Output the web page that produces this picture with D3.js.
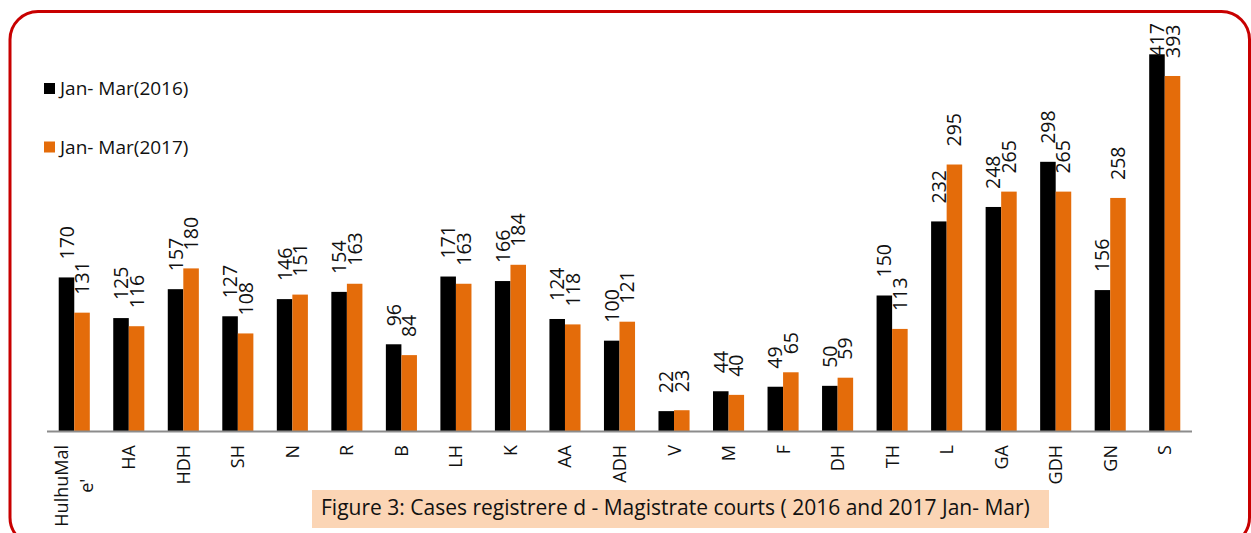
<!DOCTYPE html>
<html>
<head>
<meta charset="utf-8">
<script src="https://cdn.jsdelivr.net/npm/d3@7"></script>
<style>
  body { margin: 0; background: #fff; }
  svg { display: block; }
  text { font-family: "Open Sans", sans-serif; fill: #111; }
</style>
</head>
<body>
<svg id="chart"></svg>
<script>
var width = 1251,
    height = 533;

// data
var categories = ["HulhuMale'", "HA", "HDH", "SH", "N", "R", "B", "LH", "K", "AA", "ADH",
                  "V", "M", "F", "DH", "TH", "L", "GA", "GDH", "GN", "S"];
var cases2016 = [170, 125, 157, 127, 146, 154, 96, 171, 166, 124, 100, 22, 44, 49, 50, 150, 232, 248, 298, 156, 417];
var cases2017 = [131, 116, 180, 108, 151, 163, 84, 163, 184, 118, 121, 23, 40, 65, 59, 113, 295, 265, 265, 258, 393];
var seriesNames = ["Jan- Mar(2016)", "Jan- Mar(2017)"];
var seriesColors = ["#000000", "#E46C0A"];
var caption = "Figure 3: Cases registrere d - Magistrate courts ( 2016 and 2017 Jan- Mar)";

var svg = d3.select("#chart").attr("width", width).attr("height", height);

// red frame
svg.append("rect")
  .attr("x", 10).attr("y", 11.5)
  .attr("width", 1239.5).attr("height", 534)
  .attr("rx", 28).attr("ry", 28)
  .attr("fill", "none")
  .attr("stroke", "#C80000")
  .attr("stroke-width", 3);

var x = d3.scaleBand()
  .domain(categories)
  .range([47, 1192])
  .paddingInner(0.43)
  .paddingOuter(0.215);

var xs = d3.scaleBand()
  .domain([0, 1])
  .range([0, x.bandwidth()]);

var y = d3.scaleLinear()
  .domain([0, 450])
  .range([431, 24.5]);

var rows = categories.map(function(c, i) {
  return { cat: c, values: [cases2016[i], cases2017[i]] };
});

var groups = svg.append("g").attr("class", "bars")
  .selectAll("g")
  .data(rows)
  .enter()
  .append("g")
  .attr("transform", function(d) { return "translate(" + x(d.cat) + ",0)"; });

groups.selectAll("rect")
  .data(function(d) { return d.values.map(function(v, s) { return { v: v, s: s }; }); })
  .enter()
  .append("rect")
  .attr("x", function(d) { return xs(d.s); })
  .attr("y", function(d) { return y(d.v); })
  .attr("width", xs.bandwidth())
  .attr("height", function(d) { return y(0) - y(d.v); })
  .attr("fill", function(d) { return seriesColors[d.s]; });

// value labels, rotated, above each bar (kept inside plot top)
groups.selectAll("text.val")
  .data(function(d) { return d.values.map(function(v, s) { return { v: v, s: s }; }); })
  .enter()
  .append("text")
  .attr("class", "val")
  .style("font-size", "19.5px")
  .attr("dy", "0.36em")
  .text(function(d) { return d.v; })
  .each(function(d) {
    var len = this.getComputedTextLength();
    var cx = xs(d.s) + xs.bandwidth() / 2;
    var yy = Math.max(y(d.v) - 18, 23 + len);
    d3.select(this).attr("transform", "translate(" + cx + "," + yy + ") rotate(-90)");
  });

// baseline axis
svg.append("line")
  .attr("x1", 47).attr("x2", 1192)
  .attr("y1", y(0) + 0.5).attr("y2", y(0) + 0.5)
  .attr("stroke", "#8C8C8C")
  .attr("stroke-width", 2);

// category labels, rotated, wrapped like the original
var maxLabel = 86;
svg.append("g").attr("class", "cats")
  .selectAll("text")
  .data(categories)
  .enter()
  .append("text")
  .style("font-size", "18px")
  .each(function(d) {
    var t = d3.select(this);
    var lines = [], cur = "";
    t.text(d);
    if (this.getComputedTextLength() <= maxLabel) {
      lines = [d];
    } else {
      for (var i = 0; i < d.length; i++) {
        t.text(cur + d[i]);
        if (this.getComputedTextLength() > maxLabel && cur.length) {
          lines.push(cur);
          cur = d[i];
        } else {
          cur += d[i];
        }
      }
      lines.push(cur);
    }
    t.text(null);
    var longest = 0;
    lines.forEach(function(l) {
      var tmp = t.append("tspan").text(l);
      longest = Math.max(longest, tmp.node().getComputedTextLength());
      tmp.remove();
    });
    var lh = 25;
    var cx = x(d) + x.bandwidth() / 2;
    var cy = 445 + longest / 2;
    t.attr("text-anchor", "middle")
      .attr("transform", "translate(" + cx + "," + cy + ") rotate(-90)");
    lines.forEach(function(l, i) {
      t.append("tspan")
        .attr("x", 0)
        .attr("y", (i - (lines.length - 1) / 2) * lh)
        .attr("dy", "0.36em")
        .text(l);
    });
  });

// legend
var legend = svg.append("g").attr("class", "legend")
  .selectAll("g")
  .data(seriesNames)
  .enter()
  .append("g")
  .attr("transform", function(d, i) { return "translate(44," + (83 + i * 58.5) + ")"; });

legend.append("rect")
  .attr("width", 11).attr("height", 11)
  .attr("fill", function(d, i) { return seriesColors[i]; });

legend.append("text")
  .attr("x", 16).attr("y", 5.5)
  .attr("dy", "0.36em")
  .style("font-size", "19px")
  .text(function(d) { return d; });

// caption box
svg.append("rect")
  .attr("x", 312).attr("y", 490)
  .attr("width", 737).attr("height", 38)
  .attr("fill", "#FBD5B5");

svg.append("text")
  .attr("x", 321).attr("y", 515)
  .style("font-size", "21px")
  .text(caption);
</script>
</body>
</html>
